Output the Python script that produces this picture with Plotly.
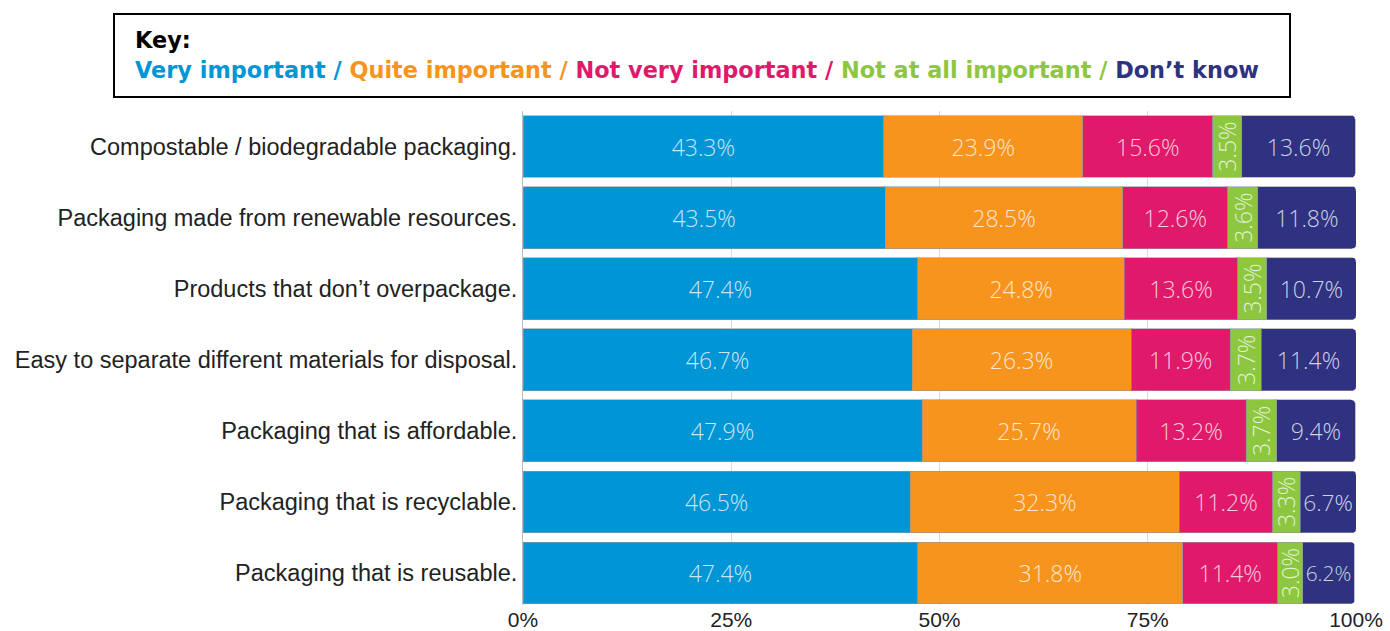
import plotly.graph_objects as go

categories = [
    "Compostable / biodegradable packaging.",
    "Packaging made from renewable resources.",
    "Products that don\u2019t overpackage.",
    "Easy to separate different materials for disposal.",
    "Packaging that is affordable.",
    "Packaging that is recyclable.",
    "Packaging that is reusable.",
]

very_important = [43.3, 43.5, 47.4, 46.7, 47.9, 46.5, 47.4]
quite_important = [23.9, 28.5, 24.8, 26.3, 25.7, 32.3, 31.8]
not_very_important = [15.6, 12.6, 13.6, 11.9, 13.2, 11.2, 11.4]
not_at_all_important = [3.5, 3.6, 3.5, 3.7, 3.7, 3.3, 3.0]
dont_know = [13.6, 11.8, 10.7, 11.4, 9.4, 6.7, 6.2]

tick_vals = [0, 25, 50, 75, 100]
tick_text = ["0%", "25%", "50%", "75%", "100%"]

series = [
    ("Very important", very_important, "#0096D6", 0),
    ("Quite important", quite_important, "#F7941D", 0),
    ("Not very important", not_very_important, "#E0196A", 0),
    ("Not at all important", not_at_all_important, "#8DC63F", -90),
    ("Don\u2019t know", dont_know, "#2E3280", 0),
]

fig = go.Figure()
for name, vals, color, angle in series:
    fig.add_trace(go.Bar(
        y=categories,
        x=vals,
        name=name,
        orientation="h",
        marker=dict(color=color, line=dict(color="rgba(150,150,160,0.6)", width=1)),
        text=[f"{v:.1f}%" for v in vals],
        textposition="inside",
        insidetextanchor="middle",
        textangle=angle,
        constraintext="none",
        textfont=dict(family="Open Sans", size=23, weight=300,
                      color="rgba(255,255,255,0.78)"),
        hoverinfo="skip",
    ))

key_line = (
    "<b><span style='color:#0096D6'>Very important / </span>"
    "<span style='color:#F7941D'>Quite important / </span>"
    "<span style='color:#E0196A'>Not very important / </span>"
    "<span style='color:#8DC63F'>Not at all important / </span>"
    "<span style='color:#2E3280'>Don\u2019t know</span></b>"
)

L, R, T, B = 523, 34, 111, 26
W, H = 1390, 631
PW, PH = W - L - R, H - T - B
BARGAP = 0.13


def px_x(x):
    return (x - L) / PW


def px_y(y):
    return (H - B - y) / PH


n = len(categories)

fig.update_layout(
    width=W,
    height=H,
    barmode="stack",
    bargap=BARGAP,
    barcornerradius=4,
    showlegend=False,
    plot_bgcolor="white",
    paper_bgcolor="white",
    margin=dict(l=L, r=R, t=T, b=B),
    xaxis=dict(
        range=[0, 100],
        tickvals=tick_vals,
        ticktext=tick_text,
        showgrid=True,
        gridcolor="#d9d9d9",
        gridwidth=1,
        zeroline=False,
        automargin=False,
        tickfont=dict(family="Liberation Sans", size=21, color="#222"),
        ticks="",
    ),
    yaxis=dict(
        range=[n - 1 + (1 - BARGAP) / 2 + 0.015, -0.5],
        automargin=False,
        tickfont=dict(family="Liberation Sans", size=23.5, color="#222"),
        ticks="",
        ticklabelstandoff=0,
        showline=True,
        linecolor="#bbbbbb",
        linewidth=1,
    ),
    shapes=[dict(
        type="rect", xref="paper", yref="paper",
        x0=px_x(114), x1=px_x(1290),
        y0=px_y(97), y1=px_y(14),
        line=dict(color="black", width=2),
    )],
    annotations=[
        dict(
            text="<b>Key:</b>", xref="paper", yref="paper",
            x=px_x(133), y=px_y(40),
            xanchor="left", yanchor="middle", showarrow=False,
            font=dict(family="DejaVu Sans", size=22.4, color="black"),
        ),
        dict(
            text=key_line, xref="paper", yref="paper",
            x=px_x(133), y=px_y(70),
            xanchor="left", yanchor="middle", showarrow=False,
            font=dict(family="DejaVu Sans", size=22.4),
        ),
    ],
)

fig.write_html("out.html")
